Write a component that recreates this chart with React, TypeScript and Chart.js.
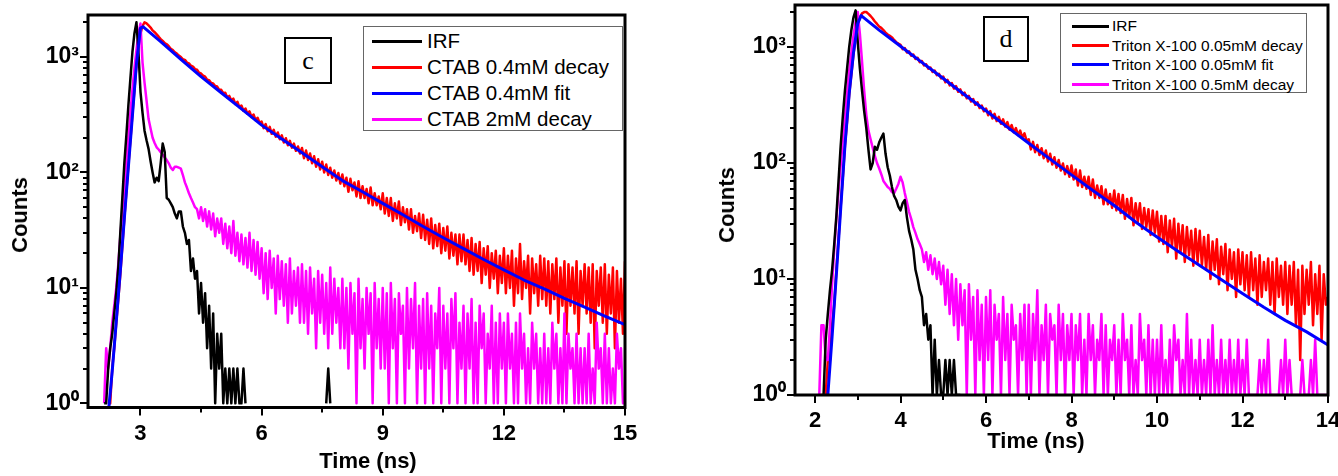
import React, { useEffect, useRef } from "react";
import { Chart, registerables } from "chart.js";

Chart.register(...registerables);

const SANS = '"Liberation Sans", Arial, Helvetica, sans-serif';
const SERIF = '"Liberation Serif", "Times New Roman", Times, serif';
Chart.defaults.font.family = SANS;

// ---------------- data ----------------
const CHANNEL_NS = 0.05; // channel width of the decay traces (ns)
const LEFT_T0 = 2.0; // first channel time, panel c
const RIGHT_T0 = 2.0; // first channel time, panel d

// panel c  (one row = 1 ns)
const irfLeft = [
  null, null, 1, 1, 2, 3, 4, 6, 9, 15, 30, 60, 120, 210, 380, 650, 1100, 1600, 2000, 1100,
  500, 330, 230, 190, 160, 125, 100, 82, 90, 84, 120, 178, 150, 60, 58, 54, 50, 44, 40, 46,
  46, 34, 30, 24, 26, 14, 18, 12, 14, 6, 11, 5, 9, 3, 7, 2, 6, 1, 4, 2,
  4, 1, 2, 1, 2, 1, 2, 1, 2, 1, 1, 2, 1, null, 1, null, null, null, null, null,
  null, null, null, null, 1, null, null, null, null, null, null, null, null, null, null, null, null, null, null, null,
  null, null, null, null, null, null, null, null, null, null, null, null, 1, 2, 1, null, null, null, null, null,
];
const ctab04Decay = [
  1, null, null, null, 1, 1, 2, 3, 5, 8, 13, 23, 40, 68, 115, 190, 320, 520, 850, 1250,
  1600, 1850, 2000, 1960, 1880, 1800, 1700, 1640, 1570, 1500, 1430, 1380, 1320, 1290, 1240, 1180, 1150, 1100, 1070, 1030,
  1000, 955, 945, 895, 880, 840, 825, 785, 775, 730, 720, 690, 675, 635, 630, 595, 590, 560, 555, 520,
  520, 485, 490, 445, 460, 420, 436, 392, 410, 368, 380, 342, 358, 322, 338, 302, 318, 284, 298, 268,
  276, 242, 262, 228, 248, 216, 234, 204, 222, 194, 210, 182, 198, 172, 188, 164, 178, 154, 168, 146,
  163, 133, 155, 128, 146, 120, 138, 112, 130, 106, 124, 100, 117, 95, 110, 90, 104, 85, 99, 80,
  96, 76, 90, 68, 88, 70, 82, 62, 84, 60, 76, 60, 72, 54, 74, 52, 66, 52, 62, 48,
  66, 44, 60, 42, 60, 38, 54, 40, 56, 35, 50, 37, 48, 32, 48, 30, 42, 31, 44, 27,
  43, 26, 39, 24, 40, 22, 35, 23, 36, 20, 33, 21, 34, 18, 30, 19, 29, 16, 29, 17,
  29, 16, 26, 14, 27, 13, 24, 14, 25, 11, 22, 13, 23, 10, 20, 12, 21, 9, 19, 11,
  22, 9, 19, 10, 21, 7, 18, 9, 24, 8, 17, 10, 19, 6, 18, 9, 16, 7, 19, 8,
  18, 7, 17, 6, 16, 8, 18, 5, 15, 7, 17, 4, 16, 7, 15, 6, 17, 4, 14, 7,
  16, 6, 15, 5, 16, 3, 14, 7, 15, 5, 16, 4, 13, 6, 15, 3, 14, 5, 12, 4,
  17,
];
const ctab2Decay = [
  null, null, 1, 3, 2, 3, 5, 7, 10, 16, 28, 45, 75, 125, 200, 330, 520, 800, 1150, 1600,
  1950, 900, 600, 420, 290, 240, 200, 180, 165, 158, 150, 142, 135, 128, 120, 110, 105, 112, 112, 110,
  108, 95, 82, 74, 66, 60, 55, 50, 48, 40, 50, 38, 48, 34, 46, 32, 44, 28, 40, 30,
  40, 24, 36, 22, 34, 20, 38, 19, 30, 17, 29, 16, 27, 15, 30, 14, 26, 13, 25, 12,
  22, 9, 20, 8, 21, 10, 18, 6, 19, 8, 17, 7, 16, 5, 18, 6, 14, 7, 15, 5,
  16, 5, 14, 4, 15, 6, 12, 3, 14, 5, 13, 4, 11, 3, 15, 4, 12, 5, 10, 3,
  12, 3, 10, 2, 11, 4, 9, 1, 12, 3, 8, 2, 10, 4, 9, 1, 11, 3, 8, 2,
  10, 2, 9, 1, 11, 3, 8, 1, 9, 4, 7, 1, 10, 2, 8, 3, 11, 1, 7, 2,
  8, 1, 9, 2, 7, 1, 6, 3, 10, 1, 7, 2, 6, 1, 8, 3, 9, 1, 5, 2,
  7, 1, 6, 2, 8, 1, 5, 1, 7, 3, 6, 1, 4, 2, 7, 1, 5, 1, 6, 2,
  5, 1, 6, 2, 4, 1, 5, 1, 6, 2, 4, 1, 3, 1, 5, 2, 4, 1, 3, 1,
  4, 1, 3, 1, 5, 2, 4, 1, 3, 1, 6, 1, 4, 2, 3, 1, 4, 1, 3, 1,
  3, 1, 4, 1, 2, 1, 5, 2, 3, 1, 4, 1, 3, 1, 2, 1, 4, 2, 3, 1,
  1,
];
const ctab04FitTime = [
  2.2, 2.3, 2.4, 2.5, 2.6, 2.7, 2.8, 2.9, 3.0, 3.06, 3.5, 4, 4.5, 5, 5.5, 6, 6.5,
  7, 7.5, 8, 8.5, 9, 9.5, 10, 10.5, 11, 11.5, 12, 12.5, 13, 13.5, 14, 14.5, 15,
];
const ctab04Fit = [
  0.8, 1.9, 5.1, 14, 40, 112, 310, 870, 1780, 1830, 1361, 955, 676, 490, 355, 257, 195,
  148, 112, 85, 68, 54, 43, 34, 27.2, 21.9, 17.6, 14.3, 11.7, 9.8, 8.1, 6.8, 5.7, 4.8,
];

// panel d  (one row = 1 ns)
const irfRight = [
  null, null, null, null, 1, 3, 5, 8, 12, 20, 35, 70, 140, 250, 420, 650, 1000, 1400, 1800, 2070,
  1100, 650, 420, 280, 200, 130, 88, 100, 138, 130, 150, 165, 179, 120, 92, 78, 62, 52, 48, 42,
  39, 45, 48, 34, 26, 22, 18, 12, 10, 8, 7, 4, 5, 3, 4, 1, 3, 1, 2, 1,
  1, 2, 1, 2, 1, 2, 1, 1, 1,
];
const triton005Decay = [
  null, null, 1, 1, 1, 1, 2, 2, 4, 6, 12, 22, 42, 75, 140, 230, 390, 580, 870, 1200,
  1550, 1800, 1950, 2000, 2000, 1930, 1850, 1760, 1660, 1580, 1500, 1460, 1400, 1330, 1280, 1250, 1210, 1150, 1100, 1070,
  1045, 955, 980, 895, 918, 840, 862, 788, 808, 740, 758, 694, 710, 650, 666, 610, 626, 572, 587, 536,
  556, 497, 521, 467, 489, 438, 460, 411, 431, 385, 404, 361, 379, 339, 356, 318, 334, 298, 313, 279,
  295, 258, 280, 242, 265, 230, 250, 218, 238, 206, 225, 194, 212, 184, 200, 174, 190, 165, 180, 155,
  160, 131, 152, 124, 143, 117, 134, 110, 128, 103, 120, 97, 112, 91, 106, 86, 99, 80, 94, 76,
  95, 72, 88, 64, 86, 62, 76, 60, 76, 53, 72, 50, 64, 50, 63, 44, 59, 44, 54, 41,
  58, 39, 54, 37, 53, 33, 49, 34, 50, 29, 45, 31, 45, 27, 41, 28, 40, 24, 39, 25,
  38, 21, 35, 20, 35, 17, 32, 19, 33, 15, 30, 17, 29, 14, 28, 16, 26, 13, 27, 14,
  26, 13, 23, 12, 24, 10, 21, 12, 22, 9, 19, 11, 20, 8, 18, 10, 17, 7, 18, 9,
  17, 8, 16, 7, 17, 8, 15, 6, 16, 7, 14, 8, 15, 6, 14, 5, 15, 7, 13, 6,
  14, 5, 13, 6, 14, 4, 12, 2, 13, 5, 12, 6, 14, 4, 11, 5, 13, 3, 11, 6,
  7,
];
const triton05Decay = [
  null, null, 1, 4, 4, 2, 2, 4, 9, 18, 33, 57, 95, 155, 250, 400, 620, 900, 1250, 1650,
  2000, 1300, 750, 420, 260, 190, 160, 135, 115, 100, 90, 80, 70, 66, 62, 60, 56, 55, 60, 66,
  76, 68, 55, 46, 38, 33, 28, 25, 22, 20, 18, 14, 17, 12, 16, 11, 15, 10, 14, 9,
  13, 6, 12, 5, 11, 4, 10, 3, 9, 4, 8, 1, 9, 3, 7, 1, 8, 2, 6, 1,
  7, 2, 8, 1, 6, 3, 5, 1, 7, 2, 5, 1, 6, 3, 4, 1, 5, 2, 6, 1,
  6, 1, 5, 2, 8, 1, 4, 2, 6, 1, 5, 3, 4, 1, 6, 2, 5, 1, 4, 2,
  5, 1, 4, 2, 5, 1, 3, 1, 5, 2, 4, 1, 3, 2, 5, 1, 4, 1, 3, 2,
  4, 1, 3, 1, 5, 2, 3, 1, 4, 1, 2, 1, 5, 2, 3, 1, 4, 1, 3, 1,
  3, 1, 4, 1, 2, 1, 3, 1, 4, 2, 3, 1, 2, 1, 5, 1, 3, 1, 2, 1,
  3, 1, 2, 1, 3, 1, 4, 1, 2, 1, 3, 1, 2, 1, 3, 1, 2, 1, 3, 1,
  2, 1, 3, 1, 1, 1, 1, 1, 2, 1, 2, 1, 3, 1, 1, 1, 1, 1, 2, 1,
  3, 1, 2, 1, 1, 1, 1, 1, 2, 1, 1, 1, 2, 1, 3, 1, 1, 1, 1, 1,
  1,
];
const triton005FitTime = [
  2.3, 2.4, 2.5, 2.6, 2.7, 2.8, 2.9, 3.0, 3.08, 3.5, 4, 4.5, 5, 5.5, 6, 6.5, 7,
  7.5, 8, 8.5, 9, 9.5, 10, 10.5, 11, 11.5, 12, 12.5, 13, 13.5, 14,
];
const triton005Fit = [
  1, 3.2, 11, 40, 141, 398, 891, 1600, 1862, 1396, 1014, 736, 535, 388, 282, 204, 148,
  108, 79, 58, 43, 31, 23, 17.3, 13.1, 9.9, 7.5, 5.7, 4.4, 3.5, 2.7,
];

// axes / labels
const leftXTicks = [3, 6, 9, 12, 15];
const leftXMinor = [4.5, 7.5, 10.5, 13.5];
const rightXTicks = [2, 4, 6, 8, 10, 12, 14];
const rightXMinor = [3, 5, 7, 9, 11, 13];
const yTicks = [1, 10, 100, 1000];
const yTickLabels = ["10\u2070", "10\u00B9", "10\u00B2", "10\u00B3"];
const leftLegend = ["IRF", "CTAB 0.4mM decay", "CTAB 0.4mM fit", "CTAB 2mM decay"];
const rightLegend = [
  "IRF",
  "Triton X-100 0.05mM decay",
  "Triton X-100 0.05mM fit",
  "Triton X-100 0.5mM decay",
];
const COLORS = ["#000000", "#ff0000", "#0000ff", "#ff00ff"];
const X_TITLE = "Time (ns)";
const Y_TITLE = "Counts";

// ---------------- helpers ----------------
function channelPoints(t0: number, values: (number | null)[]) {
  return values.map((v, i) => ({ x: +(t0 + i * CHANNEL_NS).toFixed(3), y: v }));
}
function pairedPoints(times: number[], values: number[]) {
  return values.map((v, i) => ({ x: times[i], y: v }));
}

function makeFramePlugin(major: number[], minor: number[]) {
  return {
    id: "frameTicks",
    afterDraw(chart: any) {
      const { ctx, chartArea: a, scales } = chart;
      const xs = scales.x;
      const ys = scales.y;
      ctx.save();
      ctx.strokeStyle = "#000";
      ctx.lineWidth = 2;
      ctx.lineCap = "butt";
      for (let k = -1; k <= 4; k++) {
        for (let m = 1; m <= 9; m++) {
          const v = m * Math.pow(10, k);
          if (v < ys.min || v > ys.max) continue;
          const py = Math.round(ys.getPixelForValue(v));
          const len = m === 1 ? 8 : 5;
          ctx.beginPath();
          ctx.moveTo(a.left - len, py);
          ctx.lineTo(a.left, py);
          ctx.stroke();
        }
      }
      const drawX = (vals: number[], len: number) => {
        vals.forEach((v) => {
          const px = Math.round(xs.getPixelForValue(v));
          ctx.beginPath();
          ctx.moveTo(px, a.bottom);
          ctx.lineTo(px, a.bottom + len);
          ctx.stroke();
        });
      };
      drawX(major, 8);
      drawX(minor, 5);
      ctx.lineWidth = 3;
      ctx.strokeRect(a.left, a.top, a.right - a.left, a.bottom - a.top);
      ctx.restore();
    },
  };
}

type PanelProps = {
  left: number;
  width: number;
  height: number;
  xMin: number;
  xMax: number;
  yMin: number;
  yMax: number;
  xMajor: number[];
  xMinor: number[];
  yAxisWidth: number;
  xAxisHeight: number;
  padTop: number;
  padRight: number;
  xLabelPad: number;
  yLabelPad: number;
  datasets: any[];
};

function Panel(p: PanelProps) {
  const ref = useRef<HTMLCanvasElement | null>(null);
  useEffect(() => {
    const canvas = ref.current;
    if (!canvas) return;
    const xFont = { family: SANS, size: 22, weight: "bold" as const };
    const yFont = { family: SANS, size: 23, weight: "bold" as const };
    const chart = new Chart(canvas, {
      type: "line",
      data: { datasets: p.datasets },
      options: {
        animation: false,
        responsive: false,
        devicePixelRatio: 1,
        events: [],
        layout: { padding: { left: 0, top: p.padTop, right: p.padRight, bottom: 0 } },
        plugins: { legend: { display: false }, tooltip: { enabled: false } },
        elements: { point: { radius: 0 }, line: { tension: 0 } },
        scales: {
          x: {
            type: "linear",
            min: p.xMin,
            max: p.xMax,
            grid: { display: false, drawTicks: false },
            border: { display: false },
            ticks: {
              font: xFont,
              color: "#000",
              padding: p.xLabelPad,
              autoSkip: false,
              maxRotation: 0,
              callback: (v: any) => String(v),
            },
            afterBuildTicks: (s: any) => {
              s.ticks = p.xMajor.map((v) => ({ value: v }));
            },
            afterFit: (s: any) => {
              s.height = p.xAxisHeight;
              s.paddingLeft = 0;
              s.paddingRight = 0;
            },
          },
          y: {
            type: "logarithmic",
            min: p.yMin,
            max: p.yMax,
            grid: { display: false, drawTicks: false },
            border: { display: false },
            ticks: {
              font: yFont,
              color: "#000",
              padding: p.yLabelPad,
              autoSkip: false,
              callback: (v: any) => {
                const i = yTicks.indexOf(Number(v));
                return i >= 0 ? yTickLabels[i] : "";
              },
            },
            afterBuildTicks: (s: any) => {
              s.ticks = yTicks.map((v) => ({ value: v }));
            },
            afterFit: (s: any) => {
              s.width = p.yAxisWidth;
              s.paddingTop = 0;
              s.paddingBottom = 0;
            },
          },
        },
      } as any,
      plugins: [makeFramePlugin(p.xMajor, p.xMinor)],
    });
    return () => chart.destroy();
  }, []);
  return (
    <canvas
      ref={ref}
      width={p.width}
      height={p.height}
      style={{ position: "absolute", left: p.left, top: 0, width: p.width, height: p.height }}
    />
  );
}

function series(label: string, data: any[], color: string, order: number, width = 2.5) {
  return {
    label,
    data,
    borderColor: color,
    backgroundColor: color,
    borderWidth: width,
    borderJoinStyle: "round",
    pointRadius: 0,
    fill: false,
    spanGaps: false,
    order,
  };
}

type LegendProps = {
  left: number;
  top: number;
  width: number;
  height: number;
  labels: string[];
  rows: number[];
  lineLeft: number;
  lineWidth: number;
  textLeft: number;
  fontSize: number;
};

function Legend(l: LegendProps) {
  return (
    <div
      style={{
        position: "absolute",
        left: l.left,
        top: l.top,
        width: l.width,
        height: l.height,
        boxSizing: "border-box",
        border: "1px solid #666",
        background: "#fff",
      }}
    >
      {l.labels.map((lab, i) => (
        <div key={lab}>
          <div
            style={{
              position: "absolute",
              left: l.lineLeft,
              top: l.rows[i] - 1.5,
              width: l.lineWidth,
              height: 3,
              background: COLORS[i],
            }}
          />
          <div
            style={{
              position: "absolute",
              left: l.textLeft,
              top: l.rows[i] - l.fontSize / 2,
              height: l.fontSize,
              lineHeight: 1,
              fontFamily: SANS,
              fontSize: l.fontSize,
              color: "#000",
              whiteSpace: "nowrap",
            }}
          >
            {lab}
          </div>
        </div>
      ))}
    </div>
  );
}

function LetterBox(b: { left: number; top: number; width: number; height: number; text: string }) {
  return (
    <div
      style={{
        position: "absolute",
        left: b.left,
        top: b.top,
        width: b.width,
        height: b.height,
        boxSizing: "border-box",
        border: "2px solid #000",
        background: "#fff",
        display: "flex",
        alignItems: "center",
        justifyContent: "center",
        fontFamily: SERIF,
        fontSize: 26,
        lineHeight: 1,
        color: "#000",
      }}
    >
      {b.text}
    </div>
  );
}

function AxisTitle(t: { cx: number; cy: number; text: string; vertical?: boolean }) {
  return (
    <div
      style={{
        position: "absolute",
        left: t.cx,
        top: t.cy,
        transform: `translate(-50%, -50%)${t.vertical ? " rotate(-90deg)" : ""}`,
        fontFamily: SANS,
        fontWeight: "bold",
        fontSize: 22,
        lineHeight: 1,
        whiteSpace: "nowrap",
        color: "#000",
      }}
    >
      {t.text}
    </div>
  );
}

export default function App() {
  const leftSets = [
    series(leftLegend[0], channelPoints(LEFT_T0, irfLeft), COLORS[0], 1),
    series(leftLegend[1], channelPoints(LEFT_T0, ctab04Decay), COLORS[1], 3),
    series(leftLegend[2], pairedPoints(ctab04FitTime, ctab04Fit), COLORS[2], 0, 3),
    series(leftLegend[3], channelPoints(LEFT_T0, ctab2Decay), COLORS[3], 2),
  ];
  const rightSets = [
    series(rightLegend[0], channelPoints(RIGHT_T0, irfRight), COLORS[0], 1),
    series(rightLegend[1], channelPoints(RIGHT_T0, triton005Decay), COLORS[1], 3),
    series(rightLegend[2], pairedPoints(triton005FitTime, triton005Fit), COLORS[2], 0, 3),
    series(rightLegend[3], channelPoints(RIGHT_T0, triton05Decay), COLORS[3], 2),
  ];
  return (
    <div
      style={{
        position: "absolute",
        left: 0,
        top: 0,
        width: 1338,
        height: 476,
        background: "#fff",
        overflow: "hidden",
      }}
    >
      <Panel
        left={0}
        width={660}
        height={476}
        xMin={1.7}
        xMax={15}
        yMin={0.92}
        yMax={2312}
        xMajor={leftXTicks}
        xMinor={leftXMinor}
        yAxisWidth={88}
        xAxisHeight={68.5}
        padTop={15}
        padRight={35}
        xLabelPad={13}
        yLabelPad={9}
        datasets={leftSets}
      />
      <Panel
        left={660}
        width={678}
        height={476}
        xMin={1.532}
        xMax={14}
        yMin={1}
        yMax={2301}
        xMajor={rightXTicks}
        xMinor={rightXMinor}
        yAxisWidth={135}
        xAxisHeight={81}
        padTop={5}
        padRight={10}
        xLabelPad={12.5}
        yLabelPad={9}
        datasets={rightSets}
      />
      <AxisTitle cx={20} cy={215} text={Y_TITLE} vertical />
      <AxisTitle cx={368} cy={461} text={X_TITLE} />
      <AxisTitle cx={727} cy={205} text={Y_TITLE} vertical />
      <AxisTitle cx={1036} cy={441} text={X_TITLE} />
      <LetterBox left={284} top={37} width={48} height={47} text="c" />
      <LetterBox left={983} top={16} width={46} height={46} text="d" />
      <Legend
        left={363}
        top={26}
        width={260}
        height={105}
        labels={leftLegend}
        rows={[14, 40, 66.3, 92.3]}
        lineLeft={8}
        lineWidth={50}
        textLeft={63}
        fontSize={20.5}
      />
      <Legend
        left={1060}
        top={13}
        width={247}
        height={80}
        labels={rightLegend}
        rows={[12, 31.3, 50.3, 70.3]}
        lineLeft={11}
        lineWidth={37}
        textLeft={51}
        fontSize={15.5}
      />
    </div>
  );
}
